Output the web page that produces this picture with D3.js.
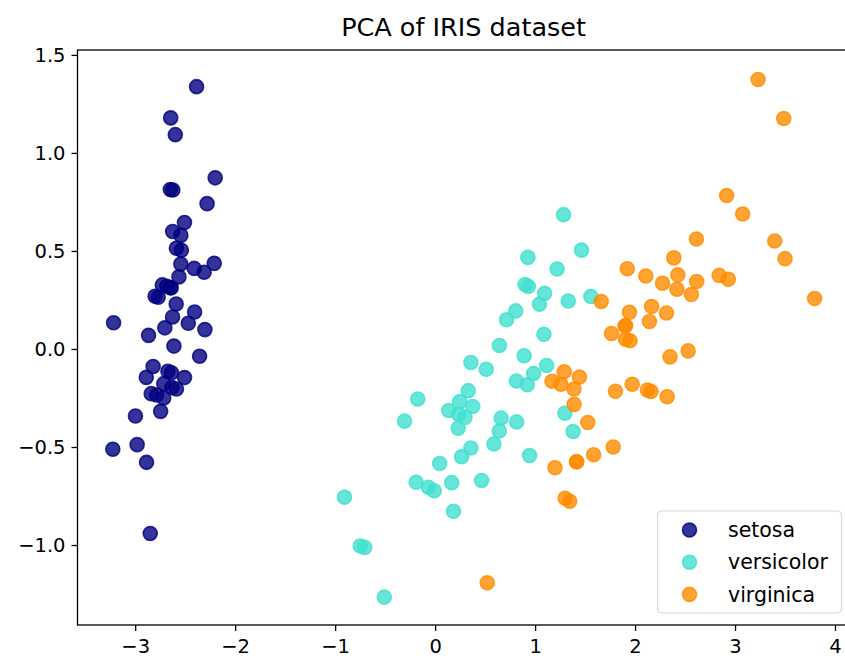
<!DOCTYPE html>
<html><head><meta charset="utf-8">
<script src="https://cdn.jsdelivr.net/npm/d3@7"></script>
<style>html,body{margin:0;padding:0;background:#fff;overflow:hidden}svg{display:block}</style>
</head><body>
<svg id="chart" width="845" height="659"></svg>
<script>
const title = "PCA of IRIS dataset";
const targetNames = ["setosa", "versicolor", "virginica"];
const colors = ["navy", "turquoise", "darkorange"];
const xTicks = [-3, -2, -1, 0, 1, 2, 3, 4];
const yTicks = [-1.0, -0.5, 0.0, 0.5, 1.0, 1.5];

const setosa = [
[-2.68412563,0.31939725],[-2.71414169,-0.17700123],[-2.88899057,-0.14494943],[-2.74534286,-0.31829898],
[-2.72871654,0.32675451],[-2.28085963,0.74133045],[-2.82053775,-0.08946138],[-2.62614497,0.16338496],
[-2.88638273,-0.57831175],[-2.6727558,-0.11377425],[-2.50694709,0.6450689],[-2.61275523,0.01472994],
[-2.78610927,-0.235112],[-3.22380374,-0.51139459],[-2.64475039,1.17876464],[-2.38603903,1.33806233],
[-2.62352788,0.81067951],[-2.64829671,0.31184914],[-2.19982032,0.87283904],[-2.5879864,0.51356031],
[-2.31025622,0.39134594],[-2.54370523,0.43299606],[-3.21593942,0.13346807],[-2.30273318,0.09870885],
[-2.35575405,-0.03728186],[-2.50666891,-0.14601688],[-2.46882007,0.13095149],[-2.56231991,0.36771886],
[-2.63953472,0.31203998],[-2.63198939,-0.19696122],[-2.58739848,-0.20431849],[-2.4099325,0.41092426],
[-2.64886233,0.81336382],[-2.59873675,1.09314576],[-2.63692688,-0.12132235],[-2.86624165,0.06936447],
[-2.62523805,0.59937002],[-2.80068412,0.26864374],[-2.98050204,-0.48795834],[-2.59000631,0.22904384],
[-2.77010243,0.26352753],[-2.84936871,-0.94096057],[-2.99740655,-0.34192606],[-2.40561449,0.18887143],
[-2.20948924,0.43666314],[-2.71445143,-0.2502082],[-2.53814826,0.50377114],[-2.83946217,-0.22794557],
[-2.54308575,0.57941002],[-2.70335978,0.10770608]];
const versicolor = [
[1.28482569,0.68516047],[0.93248853,0.31833364],[1.46430232,0.50426282],[0.18331772,-0.82795901],
[1.08810326,0.07459068],[0.64166908,-0.41824687],[1.09506066,0.28346827],[-0.74912267,-1.00489096],
[1.04413183,0.2283619],[-0.0087454,-0.72308191],[-0.50784088,-1.26597119],[0.51169856,-0.10398124],
[0.26497651,-0.55003646],[0.98493451,-0.12481785],[-0.17392537,-0.25485421],[0.92786078,0.46717949],
[0.66028376,-0.35296967],[0.23610499,-0.33361077],[0.94473373,-0.54314555],[0.04522698,-0.58383438],
[1.11628318,-0.08461685],[0.35788842,-0.06892503],[1.29818388,-0.32778731],[0.92172892,-0.18273779],
[0.71485333,0.14905594],[0.90017437,0.32850447],[1.33202444,0.24444088],[1.55780216,0.26749545],
[0.81329065,-0.1633503],[-0.30558378,-0.36826219],[-0.06812649,-0.70517213],[-0.18962247,-0.68028676],
[0.13642871,-0.31403244],[1.38002644,-0.42095429],[0.58800644,-0.48428742],[0.80685831,0.19418231],
[1.22069088,0.40761959],[0.81509524,-0.37203706],[0.24595768,-0.2685244],[0.16641322,-0.68192672],
[0.46480029,-0.67071154],[0.8908152,-0.03446444],[0.23054802,-0.40438585],[-0.70453176,-1.01224823],
[0.35698149,-0.50491009],[0.33193448,-0.21265468],[0.37621565,-0.29321893],[0.64257601,0.01773819],
[-0.90646986,-0.75609337],[0.29900084,-0.34889781]];
const virginica = [
[2.53119273,-0.00984911],[1.41523588,-0.57491635],[2.61667602,0.34390315],[1.97153105,-0.1797279],
[2.35000592,-0.04026095],[3.39703874,0.55083667],[0.52123224,-1.19275873],[2.93258707,0.3555],
[2.32122882,-0.2438315],[2.91675097,0.78279195],[1.66177415,0.24222841],[1.80340195,-0.21563762],
[2.1655918,0.21627559],[1.34616358,-0.77681835],[1.58592822,-0.53964071],[1.90445637,0.11925069],
[1.94968906,0.04194326],[3.48705536,1.17573933],[3.79564542,0.25732297],[1.30079171,-0.76114964],
[2.42781791,0.37819601],[1.19900111,-0.60609153],[3.49992004,0.4606741],[1.38876613,-0.20439933],
[2.2754305,0.33499061],[2.61409047,0.56090136],[1.25850816,-0.17970479],[1.29113206,-0.11666865],
[2.12360872,-0.20972948],[2.38800302,0.4646398],[2.84167278,0.37526917],[3.23067366,1.37416509],
[2.15943764,-0.21727758],[1.44416124,-0.14341341],[1.78129481,-0.49990168],[3.07649993,0.68808568],
[2.14424331,0.1400642],[1.90509815,0.04930053],[1.16932634,-0.16499026],[2.10761114,0.37228787],
[2.31415471,0.18365128],[1.9222678,0.40920347],[1.41523588,-0.57491635],[2.56301338,0.2778626],
[2.41874618,0.3047982],[1.94410979,0.1875323],[1.52716661,-0.37531698],[1.76434572,0.07885885],
[1.90094161,0.11662796],[1.39018886,-0.28266094]];
const seriesData = [setosa, versicolor, virginica];

const svg = d3.select("#chart");
const font = "DejaVu Sans";
const L = 77.5, R = 849.7, T = 50, B = 625;
const x = d3.scaleLinear().domain([-3.577, 4.147]).range([L, R]);
const y = d3.scaleLinear().domain([-1.408, 1.525]).range([B, T]);

svg.append("rect").attr("width", 845).attr("height", 659).attr("fill", "#fff");

// points
const pts = svg.append("g");
seriesData.forEach((arr, i) => {
  pts.selectAll(null).data(arr).enter().append("circle")
    .attr("cx", d => x(d[0])).attr("cy", d => y(d[1])).attr("r", 7)
    .attr("fill", colors[i]).attr("fill-opacity", 0.8)
    .attr("stroke", colors[i]).attr("stroke-opacity", 0.8).attr("stroke-width", 1.6);
});

// axes
const xAxis = d3.axisBottom(x).tickValues(xTicks).tickSize(6).tickPadding(5)
  .tickFormat(d => d3.format("d")(d).replace("-", "\u2212"));
const yAxis = d3.axisLeft(y).tickValues(yTicks).tickSize(6).tickPadding(6)
  .tickFormat(d => d3.format(".1f")(d).replace("-", "\u2212"));
const gx = svg.append("g").attr("transform", `translate(0,${B})`).call(xAxis);
const gy = svg.append("g").attr("transform", `translate(${L},0)`).call(yAxis);
[gx, gy].forEach(g => {
  g.select(".domain").remove();
  g.selectAll(".tick line").attr("stroke", "#000").attr("stroke-width", 1.3);
  g.selectAll(".tick text").attr("fill", "#000").style("font-family", font).style("font-size", "19.5px");
});
gx.selectAll(".tick text").attr("dy", "0.88em");

// spines
svg.append("rect").attr("x", L).attr("y", T).attr("width", R - L).attr("height", B - T)
  .attr("fill", "none").attr("stroke", "#000").attr("stroke-width", 1.3);

// title
svg.append("text").attr("x", (L + R) / 2).attr("y", 36).attr("text-anchor", "middle")
  .style("font-family", font).style("font-size", "25.5px").attr("fill", "#000").text(title);

// legend
const lg = svg.append("g");
lg.append("rect").attr("x", 657.5).attr("y", 511).attr("width", 184).attr("height", 102).attr("rx", 4)
  .attr("fill", "#fff").attr("fill-opacity", 0.8).attr("stroke", "#d5d5d5").attr("stroke-width", 1);
targetNames.forEach((name, i) => {
  const cy = 530 + i * 32.2;
  lg.append("circle").attr("cx", 689.5).attr("cy", cy).attr("r", 7)
    .attr("fill", colors[i]).attr("fill-opacity", 0.8)
    .attr("stroke", colors[i]).attr("stroke-opacity", 0.8).attr("stroke-width", 1.6);
  lg.append("text").attr("x", 728).attr("y", cy).attr("dy", "0.35em")
    .style("font-family", font).style("font-size", "20.5px").attr("fill", "#000").text(name);
});
</script>
</body></html>
